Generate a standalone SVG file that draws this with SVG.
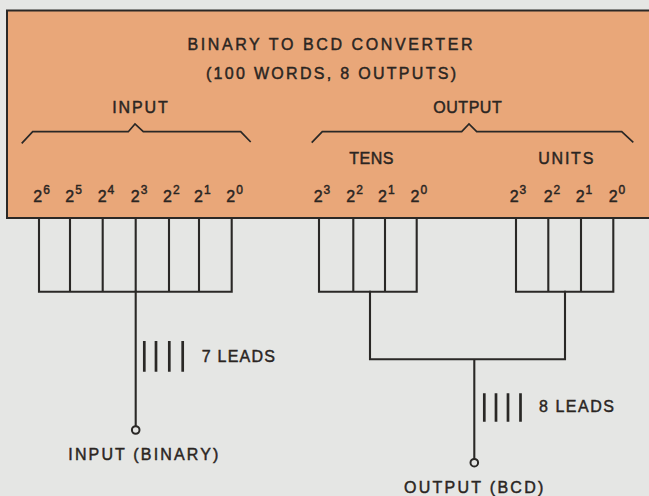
<svg xmlns="http://www.w3.org/2000/svg" width="649" height="496" viewBox="0 0 649 496">
<style>
.t{font-family:"Liberation Sans",Arial,sans-serif;fill:#2a2522;stroke:#2a2522;stroke-width:0.45;font-size:16px}
.sup{font-size:12px}
.ln{fill:none;stroke:#2a2826;stroke-width:2.1;stroke-linejoin:miter;stroke-linecap:square}
.br{fill:none;stroke:#2a2826;stroke-width:1.7;stroke-linejoin:miter}
.tick{stroke:#2a2826;stroke-width:2.7}
.term{fill:#e5e6e4;stroke:#2a2826;stroke-width:2}
</style>
<rect width="649" height="496" fill="#e5e6e4"/>
<g id="converter">
<rect x="7" y="10.5" width="660" height="207.5" fill="#e9a779" stroke="#2a2826" stroke-width="2"/>
<text class="t" x="187.5" y="50" textLength="285" lengthAdjust="spacing">BINARY TO BCD CONVERTER</text>
<text class="t" x="206" y="78.5" textLength="250" lengthAdjust="spacing">(100 WORDS, 8 OUTPUTS)</text>
<text class="t" x="112.3" y="113.3" textLength="55.4" lengthAdjust="spacing">INPUT</text>
<text class="t" x="433.3" y="113.3" textLength="68.4" lengthAdjust="spacing">OUTPUT</text>
<path class="br" d="M21.7,143.3 L32.7,131.7 L128.3,131.7 L135,124 L143.3,131.7 L240.7,131.7 L250.7,142"/>
<path class="br" d="M311.7,142.7 L322.3,131.7 L461.7,131.7 L469,124 L476.7,131.7 L621.7,131.7 L633.3,142.3"/>
<text class="t" x="349.3" y="164" textLength="44" lengthAdjust="spacing">TENS</text>
<text class="t" x="538.3" y="164" textLength="55" lengthAdjust="spacing">UNITS</text>
<g id="input-bits">
<text class="t" x="33.3" y="202">2<tspan class="sup" dx="1" dy="-8.5">6</tspan></text>
<text class="t" x="65.3" y="202">2<tspan class="sup" dx="1" dy="-8.5">5</tspan></text>
<text class="t" x="97.7" y="202">2<tspan class="sup" dx="1" dy="-8.5">4</tspan></text>
<text class="t" x="130.8" y="202">2<tspan class="sup" dx="1" dy="-8.5">3</tspan></text>
<text class="t" x="163" y="202">2<tspan class="sup" dx="1" dy="-8.5">2</tspan></text>
<text class="t" x="194" y="202">2<tspan class="sup" dx="1" dy="-8.5">1</tspan></text>
<text class="t" x="226.3" y="202">2<tspan class="sup" dx="1" dy="-8.5">0</tspan></text>
</g>
<g id="tens-bits">
<text class="t" x="313.7" y="202">2<tspan class="sup" dx="1" dy="-8.5">3</tspan></text>
<text class="t" x="346.3" y="202">2<tspan class="sup" dx="1" dy="-8.5">2</tspan></text>
<text class="t" x="378" y="202">2<tspan class="sup" dx="1" dy="-8.5">1</tspan></text>
<text class="t" x="410.5" y="202">2<tspan class="sup" dx="1" dy="-8.5">0</tspan></text>
</g>
<g id="units-bits">
<text class="t" x="509.7" y="202">2<tspan class="sup" dx="1" dy="-8.5">3</tspan></text>
<text class="t" x="543.7" y="202">2<tspan class="sup" dx="1" dy="-8.5">2</tspan></text>
<text class="t" x="575.7" y="202">2<tspan class="sup" dx="1" dy="-8.5">1</tspan></text>
<text class="t" x="608.7" y="202">2<tspan class="sup" dx="1" dy="-8.5">0</tspan></text>
</g>
</g>
<g id="input-leads">
<path class="ln" d="M39,219 V291.7 M70,219 V291.7 M102.7,219 V291.7 M135.7,219 V291.7 M169,219 V291.7 M199,219 V291.7 M231.7,219 V291.7 M39,291.7 H231.7"/>
</g>
<g id="tens-leads">
<path class="ln" d="M319,219 V291.7 M353.3,219 V291.7 M385,219 V291.7 M416.7,219 V291.7 M319,291.7 H416.7"/>
</g>
<g id="units-leads">
<path class="ln" d="M516,219 V291.7 M548.3,219 V291.7 M581,219 V291.7 M613.3,219 V291.7 M516,291.7 H613.3"/>
</g>
<g id="connectors">
<path class="ln" d="M135.7,291.7 V426"/>
<path class="ln" d="M370,291.7 V359.3 H565 V291.7 M474.3,359.3 V458.8"/>
<g id="input-bundle-mark">
<path class="tick" d="M144.3,341 V371.7 M156,341 V371.7 M169.3,341 V371.7 M182.7,341 V371.7"/>
<text class="t" x="201.7" y="361.7" textLength="73.3" lengthAdjust="spacing">7 LEADS</text>
</g>
<g id="output-bundle-mark">
<path class="tick" d="M484.3,393.3 V421.7 M496,393.3 V421.7 M508,393.3 V421.7 M520.5,393.3 V421.7"/>
<text class="t" x="539" y="411.5" textLength="75" lengthAdjust="spacing">8 LEADS</text>
</g>
</g>
<g id="input-terminal">
<circle class="term" cx="135.7" cy="430" r="3.8"/>
<text class="t" x="68.3" y="460" textLength="150" lengthAdjust="spacing">INPUT (BINARY)</text>
</g>
<g id="output-terminal">
<circle class="term" cx="474.3" cy="462.7" r="3.8"/>
<text class="t" x="404" y="492.7" textLength="139.3" lengthAdjust="spacing">OUTPUT (BCD)</text>
</g>
</svg>
